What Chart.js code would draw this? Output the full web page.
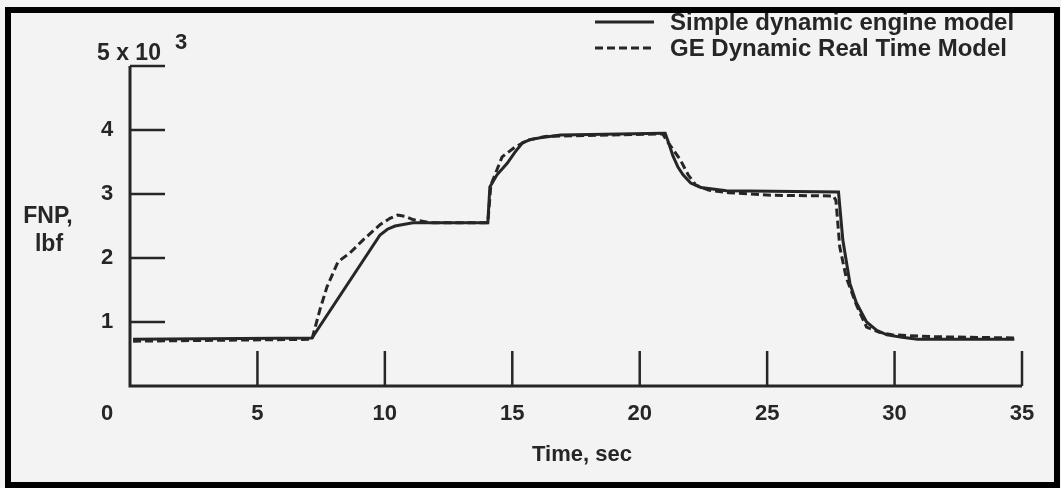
<!DOCTYPE html>
<html>
<head>
<meta charset="utf-8">
<script src="https://cdn.jsdelivr.net/npm/chart.js@4.4.1/dist/chart.umd.min.js"></script>
<style>
  html, body { margin: 0; padding: 0; background: #ffffff; }
  #wrap { position: relative; width: 1061px; height: 488px; }
</style>
</head>
<body>
<div id="wrap"><canvas id="chart"></canvas></div>
<script>
// Tiempo (s) y empuje FNP (x 10^3 lbf)
const timeSimple = [0.12, 7.14, 9.81, 10.1, 10.4, 11.1, 14.04, 14.12, 14.4, 14.8, 15.1, 15.4, 15.7, 16.1, 16.9, 20.9, 21.0, 21.15, 21.3, 21.5, 21.7, 22.0, 22.4, 23.4, 27.8, 27.97, 28.25, 28.5, 28.9, 29.3, 29.7, 30.3, 30.9, 34.7];
const fnpSimple  = [0.73, 0.75, 2.36, 2.45, 2.5, 2.55, 2.55, 3.11, 3.3, 3.48, 3.65, 3.8, 3.85, 3.88, 3.92, 3.95, 3.95, 3.78, 3.6, 3.42, 3.3, 3.17, 3.1, 3.05, 3.03, 2.28, 1.6, 1.3, 1.0, 0.87, 0.8, 0.76, 0.73, 0.73];

const timeGE = [0.12, 7.14, 7.45, 7.73, 8.16, 8.63, 9.14, 9.81, 10.2, 10.5, 10.8, 11.1, 11.8, 14.04, 14.16, 14.24, 14.6, 15.1, 15.6, 16.3, 20.9, 21.05, 21.6, 21.9, 22.2, 22.7, 23.5, 25.2, 27.6, 27.7, 27.85, 28.1, 28.5, 28.9, 29.4, 29.9, 31.5, 34.7];
const fnpGE  = [0.70, 0.73, 1.19, 1.55, 1.94, 2.08, 2.28, 2.52, 2.62, 2.67, 2.65, 2.6, 2.55, 2.55, 3.14, 3.22, 3.58, 3.73, 3.84, 3.9, 3.94, 3.84, 3.53, 3.3, 3.14, 3.06, 3.02, 2.98, 2.97, 2.9, 2.17, 1.7, 1.27, 0.92, 0.84, 0.8, 0.77, 0.75];

const seriesNames = ['Simple dynamic engine model', 'GE Dynamic Real Time Model'];
const xTicks = [0, 5, 10, 15, 20, 25, 30, 35];
const yTicks = [1, 2, 3, 4, 5];

const ink = '#262626';
const fontFam = '"Liberation Sans", Arial, sans-serif';

function toPoints(xs, ys) {
    return xs.map((x, i) => ({ x: x, y: ys[i] }));
}

// Marco, ejes con marcas hacia dentro, etiquetas y leyenda
const axesPlugin = {
    id: 'paperAxes',
    beforeDraw(chart) {
        const ctx = chart.ctx;
        ctx.save();
        ctx.fillStyle = '#f3f3f3';
        ctx.fillRect(0, 0, chart.width, chart.height);
        ctx.restore();
    },
    afterDraw(chart) {
        const ctx = chart.ctx;
        const xs = chart.scales.x;
        const ys = chart.scales.y;
        const x0 = xs.getPixelForValue(0);
        const y0 = ys.getPixelForValue(0);
        const tick = 35;

        ctx.save();
        ctx.strokeStyle = ink;
        ctx.lineCap = 'butt';

        // ejes
        ctx.lineWidth = 3;
        ctx.beginPath();
        ctx.moveTo(x0, ys.getPixelForValue(5));
        ctx.lineTo(x0, y0);
        ctx.lineTo(xs.getPixelForValue(35), y0);
        ctx.stroke();

        ctx.lineWidth = 2.5;
        yTicks.forEach(v => {
            const py = ys.getPixelForValue(v);
            ctx.beginPath();
            ctx.moveTo(x0, py);
            ctx.lineTo(x0 + tick, py);
            ctx.stroke();
        });
        xTicks.slice(1).forEach(v => {
            const px = xs.getPixelForValue(v);
            ctx.beginPath();
            ctx.moveTo(px, y0);
            ctx.lineTo(px, y0 - tick);
            ctx.stroke();
        });

        // etiquetas de los ejes
        ctx.fillStyle = ink;
        ctx.font = 'bold 22px ' + fontFam;
        ctx.textBaseline = 'middle';
        ctx.textAlign = 'center';
        xTicks.forEach(v => {
            const px = v === 0 ? x0 - 23 : xs.getPixelForValue(v);
            ctx.fillText(String(v), px, y0 + 28);
        });
        yTicks.slice(0, 4).forEach(v => {
            ctx.fillText(String(v), x0 - 23, ys.getPixelForValue(v));
        });
        ctx.textAlign = 'left';
        ctx.textBaseline = 'alphabetic';
        ctx.font = 'bold 23px ' + fontFam;
        ctx.fillText('5 x 10', 97, 60);
        ctx.font = 'bold 22px ' + fontFam;
        ctx.fillText('3', 175, 49);

        ctx.font = 'bold 22px ' + fontFam;
        ctx.textAlign = 'center';
        ctx.textBaseline = 'middle';
        ctx.fillText('Time, sec', 582, 455);
        ctx.font = 'bold 23px ' + fontFam;
        ctx.fillText('FNP,', 48, 217);
        ctx.fillText('lbf', 49, 245);

        // leyenda
        const legendRows = [22, 48];
        ctx.font = 'bold 24px ' + fontFam;
        ctx.textAlign = 'left';
        chart.data.datasets.forEach((ds, i) => {
            const ly = legendRows[i];
            ctx.lineWidth = 3;
            ctx.setLineDash(ds.borderDash || []);
            ctx.beginPath();
            ctx.moveTo(595, ly);
            ctx.lineTo(654, ly);
            ctx.stroke();
            ctx.setLineDash([]);
            ctx.fillText(seriesNames[i], 670, ly + 1);
        });

        // marco negro del escaneo
        ctx.lineWidth = 6;
        ctx.strokeStyle = '#000000';
        ctx.strokeRect(8, 10, 1049, 475);
        ctx.restore();
    }
};

new Chart(document.getElementById('chart'), {
    type: 'scatter',
    data: {
        datasets: [
            {
                label: seriesNames[0],
                data: toPoints(timeSimple, fnpSimple),
                showLine: true,
                borderColor: ink,
                borderWidth: 3,
                pointRadius: 0,
                tension: 0
            },
            {
                label: seriesNames[1],
                data: toPoints(timeGE, fnpGE),
                showLine: true,
                borderColor: ink,
                borderWidth: 3,
                borderDash: [8, 4],
                pointRadius: 0,
                tension: 0
            }
        ]
    },
    options: {
        responsive: true,
        maintainAspectRatio: false,
        animation: false,
        layout: { padding: { left: 130, right: 39, top: 66, bottom: 102 } },
        scales: {
            x: { type: 'linear', min: 0, max: 35, display: false },
            y: { type: 'linear', min: 0, max: 5, display: false }
        },
        plugins: {
            legend: { display: false },
            tooltip: { enabled: false }
        }
    },
    plugins: [axesPlugin]
});
</script>
</body>
</html>
